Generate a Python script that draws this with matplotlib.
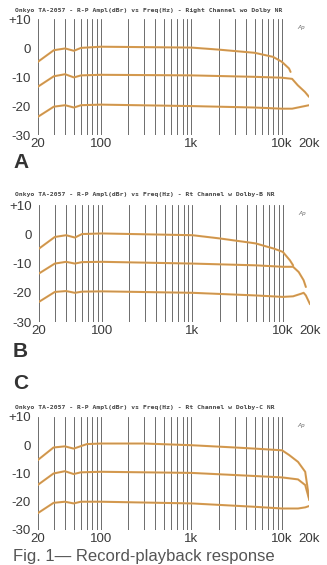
import matplotlib.pyplot as plt

# Record-playback response, three test levels per panel (dB vs Hz)
panel_letters = ["A", "B", "C"]
panel_titles = [
    "Onkyo TA-2057 - R-P Ampl(dBr) vs Freq(Hz) - Right Channel wo Dolby NR",
    "Onkyo TA-2057 - R-P Ampl(dBr) vs Freq(Hz) - Rt Channel w Dolby-B NR",
    "Onkyo TA-2057 - R-P Ampl(dBr) vs Freq(Hz) - Rt Channel w Dolby-C NR",
]

# panel A: no NR
a_top_f = [20, 30, 40, 50, 60, 100, 1000, 2000, 5000, 8000, 10000, 12000, 12500]
a_top_db = [-4.7, -0.7, -0.1, -0.9, 0.1, 0.5, 0.2, -0.5, -1.6, -3.0, -4.7, -7.0, -8.2]
a_mid_f = [20, 30, 40, 50, 60, 100, 1000, 5000, 10000, 13000, 15000, 18000, 20000]
a_mid_db = [-13.3, -9.7, -9.0, -10.1, -9.4, -9.2, -9.4, -9.9, -10.2, -10.6, -12.8, -15.1, -16.8]
a_bot_f = [20, 30, 40, 50, 60, 100, 1000, 5000, 10000, 13000, 20000]
a_bot_db = [-23.7, -20.2, -19.7, -20.5, -19.7, -19.5, -20.0, -20.5, -20.9, -20.9, -19.7]

# panel B: Dolby-B
b_top_f = [20, 30, 40, 50, 60, 100, 1000, 2000, 5000, 8000, 10000, 12000, 13000]
b_top_db = [-4.9, -0.9, -0.3, -1.1, 0.1, 0.3, -0.3, -1.4, -3.1, -4.9, -6.0, -8.9, -10.6]
b_mid_f = [20, 30, 40, 50, 60, 100, 1000, 5000, 10000, 13000, 15000, 17000, 18000]
b_mid_db = [-13.4, -10.0, -9.4, -10.0, -9.5, -9.4, -10.0, -10.6, -11.1, -11.1, -12.9, -15.7, -18.0]
b_bot_f = [20, 30, 40, 50, 60, 100, 1000, 5000, 10000, 13000, 16000, 17000, 18000, 20000]
b_bot_db = [-23.1, -19.7, -19.4, -20.0, -19.6, -19.5, -20.0, -20.9, -21.4, -21.2, -20.3, -20.0, -20.9, -23.9]

# panel C: Dolby-C
c_top_f = [20, 30, 40, 50, 70, 100, 300, 1000, 3000, 5000, 10000, 12000, 15000, 18000, 20000]
c_top_db = [-5.3, -0.8, -0.4, -1.2, 0.4, 0.6, 0.6, 0.0, -0.8, -1.2, -1.8, -3.5, -5.9, -9.4, -19.4]
c_mid_f = [20, 30, 40, 50, 60, 100, 1000, 5000, 10000, 15000, 18000, 20000]
c_mid_db = [-14.1, -10.0, -9.2, -10.2, -9.6, -9.4, -9.8, -10.9, -11.4, -12.1, -14.1, -19.4]
c_bot_f = [20, 30, 40, 50, 60, 100, 1000, 5000, 10000, 15000, 18000, 20000]
c_bot_db = [-24.1, -20.4, -20.0, -20.6, -20.0, -20.0, -20.6, -21.8, -22.4, -22.4, -22.0, -21.5]

panels = [
    [(a_top_f, a_top_db), (a_mid_f, a_mid_db), (a_bot_f, a_bot_db)],
    [(b_top_f, b_top_db), (b_mid_f, b_mid_db), (b_bot_f, b_bot_db)],
    [(c_top_f, c_top_db), (c_mid_f, c_mid_db), (c_bot_f, c_bot_db)],
]

x_ticks = [20, 100, 1000, 10000, 20000]
x_labels = ["20", "100", "1k", "10k", "20k"]
y_ticks = [-30, -20, -10, 0, 10]
y_labels = ["-30", "-20", "-10", "0", "+10"]
grid_f = ([f for f in range(20, 100, 10)] + [f for f in range(100, 1000, 100)]
          + [f for f in range(1000, 10000, 1000)] + [10000, 20000])

plt.rcParams["font.family"] = ["Liberation Sans", "DejaVu Sans"]

fig = plt.figure(figsize=(3.27, 5.65), dpi=100)

# axes boxes in figure fractions: [left, bottom, width, height]
boxes = [
    [0.116, 0.761, 0.829, 0.205],
    [0.119, 0.430, 0.829, 0.207],
    [0.115, 0.062, 0.831, 0.200],
]
letter_y = [0.713, 0.377, 0.322]
title_y = [0.982, 0.655, 0.279]

line_col = "#dfa04e"
ink = "#3a3a3a"

for i, curves in enumerate(panels):
    ax = fig.add_axes(boxes[i])
    ax.set_xscale("log")
    ax.set_xlim(20, 20000)
    ax.set_ylim(-30, 10)

    for f in grid_f:
        ax.axvline(f, color="#555555", lw=0.6, zorder=1)

    for f, db in curves:
        ax.plot(f, db, color=line_col, lw=1.5, zorder=3, solid_capstyle="round")
        ax.plot(f, db, color="#9a7a5a", lw=0.5, alpha=0.45, zorder=4)

    ax.set_xticks(x_ticks)
    ax.set_xticklabels(x_labels)
    ax.set_xticks([], minor=True)
    ax.set_yticks(y_ticks)
    ax.set_yticklabels(y_labels)
    ax.tick_params(length=0, labelsize=9.5, colors=ink, pad=5)
    ax.tick_params(axis="x", pad=2)
    for s in ax.spines.values():
        s.set_visible(False)

    ax.text(0.985, 0.95, "Ap", transform=ax.transAxes, fontsize=4.5,
            color="#666666", ha="right", va="top", style="italic")

    fig.text(0.045, title_y[i], panel_titles[i], fontsize=4.6, color="#444444",
             family="DejaVu Sans Mono", weight="bold", va="center")
    fig.text(0.04, letter_y[i], panel_letters[i], fontsize=15, color="#333333",
             weight="bold", va="center")

fig.text(0.04, 0.002, "Fig. 1— Record-playback response", fontsize=12,
         color="#555555", va="bottom")

fig.savefig("out.png", dpi=100)
